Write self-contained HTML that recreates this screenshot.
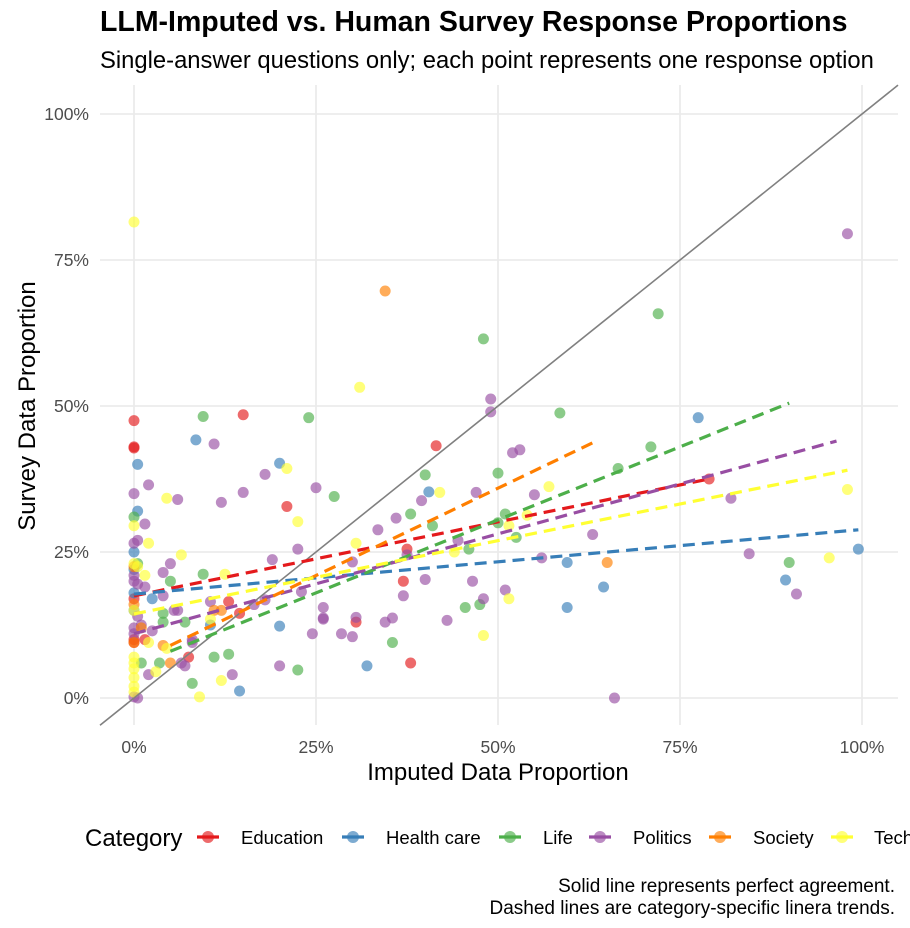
<!DOCTYPE html>
<html><head><meta charset="utf-8">
<style>
html,body{margin:0;padding:0;background:#fff;width:910px;height:928px;overflow:hidden}
svg{display:block;font-family:"Liberation Sans",Arial,sans-serif}
</style></head>
<body>
<svg id="chart" width="910" height="928" viewBox="0 0 910 928">
<text x="100" y="31" font-size="28.5" font-weight="bold" fill="#000">LLM-Imputed vs. Human Survey Response Proportions</text>
<text x="100" y="68" font-size="23.8" fill="#000">Single-answer questions only; each point represents one response option</text>
<g id="grid"></g>
<g id="ticks"></g>
<g id="marks"></g>
<text x="498" y="780" font-size="24" text-anchor="middle" fill="#000">Imputed Data Proportion</text>
<text transform="translate(35,406) rotate(-90)" font-size="24" text-anchor="middle" fill="#000">Survey Data Proportion</text>
<g id="legend">
<text x="85" y="846" font-size="24" fill="#000">Category</text>
</g>
<text x="895" y="892" font-size="19" text-anchor="end" fill="#000">Solid line represents perfect agreement.</text>
<text x="895" y="914" font-size="19" text-anchor="end" fill="#000">Dashed lines are category-specific linera trends.</text>
</svg>
<script>
const categories = ["Education","Health care","Life","Politics","Society","Technology"];
const colors = ["#E41A1C","#377EB8","#4DAF4A","#984EA3","#FF7F00","#FFFF33"];
const tickValues = [0,25,50,75,100];
const tickLabels = ["0%","25%","50%","75%","100%"];
const eduX=[0,0,0,0,15,21,41.5,79,37,38,30.5,14.5,13,7.5,0,0,1.5,37.5];
const eduY=[47.5,43,42.8,17,48.5,32.8,43.2,37.5,20,6,13,14.5,16.5,7,10,9.5,10,25.5];
const hcX=[0.5,8.5,20,0.5,0,40.5,77.5,59.5,59.5,64.5,89.5,99.5,32,14.5,20,10.5,0,0,2.5,0];
const hcY=[40,44.2,40.2,32,25,35.3,48,23.2,15.5,19,20.2,25.5,5.5,1.2,12.3,12.5,15,22,17,18];
const lifeX=[9.5,24,48,72,58.5,71,66.5,50,40,27.5,38,51,52.5,46,45.5,47.5,35.5,22.5,13,11,8,5,9.5,4,3.5,1,0,0.5,7,41,50,90,4];
const lifeY=[48.2,48,61.5,65.8,48.8,43,39.3,38.5,38.2,34.5,31.5,31.5,27.5,25.5,15.5,16,9.5,4.8,7.5,7,2.5,20,21.2,14.5,6,6,31,23,13,29.5,30,23.2,13];
const polX=[98,49,49,53,52,47,39.5,36,33.5,37.5,44.5,46.5,48,51,43,37,35.5,34.5,30,28.5,26,26,24.5,20,16.5,18,19,22.5,23,25,15,18,11,12,6,2,1.5,0,0,0.5,0,0,0.5,1.5,2.5,4,5.5,4,5,6,8,8,6.5,7,10.5,13.5,0,0,0,0.5,1,30,30.5,56,63,82,84.5,91,66,55,40,26,2,0.5];
const polY=[79.5,51.2,49,42.5,42,35.2,33.8,30.8,28.8,24.5,27,20,17,18.5,13.3,17.5,13.7,13,10.5,11,15.5,13.7,11,5.5,16,16.8,23.7,25.5,18.2,36,35.2,38.3,43.5,33.5,34,36.5,29.8,35,26.5,27,21,20,19.5,19,11.5,17.5,15,21.5,23,15,10,9.5,6,5.5,16.5,4,12,11,0.2,0,12.5,23.3,13.8,24,28,34.2,24.7,17.8,0,34.8,20.3,13.5,4,14];
const socX=[34.5,65,0,0,1,12,4,5,0,11];
const socY=[69.7,23.2,22.5,9.5,12,15,9,6,16,15];
const techX=[0,31,21,0,22.5,30.5,42,57,51.5,54,51.5,48,44,0,0.5,2,1.5,4.5,6.5,12.5,12,9,3,4.5,0,0,0,0,0,0,98,95.5,2,0,10.5];
const techY=[81.5,53.2,39.3,29.5,30.2,26.5,35.2,36.2,29.5,31.3,17,10.7,25,23,22.5,26.5,21,34.2,24.5,21.2,3,0.2,4.5,8.5,6,5,3.5,2,1,7,35.7,24,9.5,15,13.5];
const seriesX=[eduX,hcX,lifeX,polX,socX,techX];
const seriesY=[eduY,hcY,lifeY,polY,socY,techY];
const trendX0=[0,0,5,0,5,0];
const trendX1=[79,99.5,90,96.5,63.5,98];
const trendY0=[17.5,17.8,8,11,9,14.4];
const trendY1=[37.5,28.8,50.5,44,44,39];

const NS="http://www.w3.org/2000/svg";
const L=100,R=898,T=85,B=725;
const sx=v=>134+v*7.28;
const sy=v=>698-v*5.84;
function mk(tag,attrs,parent){const e=document.createElementNS(NS,tag);for(const k in attrs)e.setAttribute(k,attrs[k]);parent.appendChild(e);return e;}
const grid=document.getElementById('grid'),ticks=document.getElementById('ticks'),marks=document.getElementById('marks'),legend=document.getElementById('legend');
tickValues.forEach((v,i)=>{
  let g=mk('line',{x1:sx(v),x2:sx(v),y1:T,y2:B,stroke:'#ebebeb','stroke-width':1.8},grid);
  
  
  g=mk('line',{x1:L,x2:R,y1:sy(v),y2:sy(v),stroke:'#ebebeb','stroke-width':1.8},grid);
  
  
  let t=mk('text',{x:sx(v),y:753,'font-size':17.5,'text-anchor':'middle',fill:'#4d4d4d'},ticks);t.textContent=tickLabels[i];
  
  
  t=mk('text',{x:89,y:sy(v)+6,'font-size':17.5,'text-anchor':'end',fill:'#4d4d4d'},ticks);t.textContent=tickLabels[i];
  
  
});
seriesX.forEach((xs,c)=>{
  xs.forEach((x,j)=>{
    const p=mk('circle',{cx:sx(x),cy:sy(seriesY[c][j]),r:5.5,fill:colors[c],'fill-opacity':0.65},marks);
    
    
  });
});
const d=mk('line',{x1:L,y1:sy((L-134)/7.28),x2:R,y2:sy((R-134)/7.28),stroke:'#808080','stroke-width':1.6},marks);


categories.forEach((c,i)=>{
  const l=mk('line',{x1:sx(trendX0[i]),y1:sy(trendY0[i]),x2:sx(trendX1[i]),y2:sy(trendY1[i]),stroke:colors[i],'stroke-width':3.2,'stroke-dasharray':'12,7'},marks);
  
  
});
const lx=[208,353,510,600,720,842];
const tx=[241,386,543,633,753,874];
categories.forEach((c,i)=>{
  const g=mk('g',{},legend);
  
  
  mk('line',{x1:lx[i]-11,x2:lx[i]+11,y1:837,y2:837,stroke:colors[i],'stroke-width':3.2},g);
  mk('circle',{cx:lx[i],cy:837,r:6,fill:colors[i],'fill-opacity':0.65},g);
  const t=mk('text',{x:tx[i],y:844,'font-size':18.5,fill:'#000'},g);t.textContent=c;
});
</script>
</body></html>
